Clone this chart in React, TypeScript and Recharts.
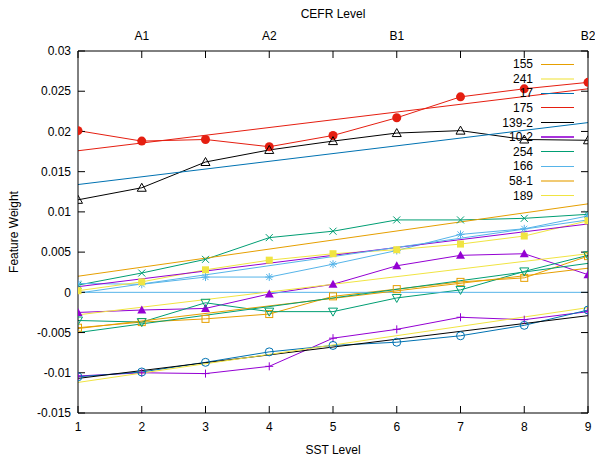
import { ComposedChart, Line, XAxis, YAxis } from "recharts";

// SST levels on the bottom axis, CEFR levels on the top one
const sstLevels = [1, 2, 3, 4, 5, 6, 7, 8, 9];
const cefrTicks = [2, 4, 6, 9];
const cefrLabels = ["A1", "A2", "B1", "B2"];
const yTicks = [-0.015, -0.01, -0.005, 0, 0.005, 0.01, 0.015, 0.02, 0.025, 0.03];

// feature weights per SST level (points)
const plusSeries = [-0.0104, -0.01, -0.0101, -0.0092, -0.0057, -0.0046, -0.0031, -0.0034, -0.0024];
const crossSeries = [0.0009, 0.0024, 0.0041, 0.0068, 0.0076, 0.009, 0.009, 0.0092, 0.0097];
const starSeries = [0.0011, 0.001, 0.0019, 0.0019, 0.0035, 0.0052, 0.0072, 0.0079, 0.0095];
const openSquareSeries = [-0.0044, -0.0037, -0.0033, -0.0027, -0.0005, 0.0004, 0.0013, 0.0018, 0.0045];
const squareSeries = [0.0002, 0.0013, 0.0028, 0.004, 0.0048, 0.0053, 0.006, 0.007, 0.0089];
const openCircleSeries = [-0.0105, -0.0099, -0.0087, -0.0074, -0.0066, -0.0062, -0.0054, -0.0041, -0.0022];
const circleSeries = [0.0201, 0.0188, 0.019, 0.0181, 0.0195, 0.0217, 0.0243, 0.0253, 0.0261];
const openTriangleSeries = [0.0115, 0.013, 0.0162, 0.0177, 0.0188, 0.0198, 0.0201, 0.019, 0.0189];
const triangleSeries = [-0.0025, -0.0022, -0.002, -0.0002, 0.001, 0.0033, 0.0046, 0.0048, 0.0022];
const openTriangleDownSeries = [-0.0035, -0.0037, -0.0013, -0.0024, -0.0024, -0.0007, 0.0003, 0.0026, 0.0046];

// fitted lines: value at SST 1 and at SST 9
const fitLabels = ["155", "241", "17", "175", "139-2", "10-2", "254", "166", "58-1", "189"];
const fitStart = [-0.0045, -0.0028, 0.0134, 0.0176, -0.0107, 0.0007, -0.005, -0.0001, 0.002, -0.0112];
const fitEnd = [0.003, 0.0048, 0.0211, 0.0253, -0.0029, 0.0085, 0.0036, 0.009, 0.011, -0.0019];

// the zero line, at SST 1 and SST 9
const zeroLine = [0, 0];

const PURPLE = "#9400d3";
const GREEN = "#009e73";
const SKY = "#56b4e9";
const ORANGE = "#e69f00";
const YELLOW = "#f0e442";
const BLUE = "#0072b2";
const RED = "#e51e10";
const BLACK = "#000000";

const FONT = '"Liberation Sans", Arial, Helvetica, sans-serif';

const pointSeries = [
  { name: "p1", values: plusSeries, color: PURPLE, shape: "plus" },
  { name: "p2", values: crossSeries, color: GREEN, shape: "cross" },
  { name: "p3", values: starSeries, color: SKY, shape: "star" },
  { name: "p4", values: openSquareSeries, color: ORANGE, shape: "openSquare" },
  { name: "p5", values: squareSeries, color: YELLOW, shape: "square" },
  { name: "p6", values: openCircleSeries, color: BLUE, shape: "openCircle" },
  { name: "p7", values: circleSeries, color: RED, shape: "circle" },
  { name: "p8", values: openTriangleSeries, color: BLACK, shape: "openTriangle" },
  { name: "p9", values: triangleSeries, color: PURPLE, shape: "triangle" },
  { name: "p10", values: openTriangleDownSeries, color: GREEN, shape: "openTriangleDown" },
];

const fitColors = [ORANGE, YELLOW, BLUE, RED, BLACK, PURPLE, GREEN, SKY, ORANGE, YELLOW];
const legendLine = [
  { w: 1, o: 1 },
  { w: 2, o: 0.55 },
  { w: 1, o: 1 },
  { w: 1, o: 1 },
  { w: 1, o: 1 },
  { w: 2, o: 0.8 },
  { w: 1, o: 1 },
  { w: 1, o: 1 },
  { w: 2, o: 0.55 },
  { w: 1, o: 1 },
];

const Marker = ({ cx, cy, shape, color }: { cx: number; cy: number; shape: string; color: string }) => {
  if (cx == null || cy == null) return null;
  const s = { stroke: color, strokeWidth: 1, fill: "none" };
  switch (shape) {
    case "plus":
      return (
        <g {...s}>
          <line x1={cx - 4} y1={cy} x2={cx + 4} y2={cy} />
          <line x1={cx} y1={cy - 4} x2={cx} y2={cy + 4} />
        </g>
      );
    case "cross":
      return (
        <g {...s}>
          <line x1={cx - 3.5} y1={cy - 3.5} x2={cx + 3.5} y2={cy + 3.5} />
          <line x1={cx - 3.5} y1={cy + 3.5} x2={cx + 3.5} y2={cy - 3.5} />
        </g>
      );
    case "star":
      return (
        <g {...s}>
          <line x1={cx - 4} y1={cy} x2={cx + 4} y2={cy} />
          <line x1={cx} y1={cy - 4} x2={cx} y2={cy + 4} />
          <line x1={cx - 3} y1={cy - 3} x2={cx + 3} y2={cy + 3} />
          <line x1={cx - 3} y1={cy + 3} x2={cx + 3} y2={cy - 3} />
        </g>
      );
    case "openSquare":
      return <rect x={cx - 3.5} y={cy - 3.5} width={7} height={7} {...s} />;
    case "square":
      return <rect x={cx - 3.5} y={cy - 3.5} width={7} height={7} fill={color} />;
    case "openCircle":
      return <circle cx={cx} cy={cy} r={4} {...s} />;
    case "circle":
      return <circle cx={cx} cy={cy} r={4.5} fill={color} />;
    case "openTriangle":
      return <polygon points={`${cx},${cy - 4.5} ${cx - 4.5},${cy + 3.5} ${cx + 4.5},${cy + 3.5}`} {...s} />;
    case "triangle":
      return <polygon points={`${cx},${cy - 4.5} ${cx - 4.5},${cy + 3.5} ${cx + 4.5},${cy + 3.5}`} fill={color} />;
    case "openTriangleDown":
      return <polygon points={`${cx},${cy + 4.5} ${cx - 4.5},${cy - 3.5} ${cx + 4.5},${cy - 3.5}`} {...s} />;
    default:
      return null;
  }
};

const fmtY = (v: number) => String(parseFloat(v.toFixed(3)));
const fmtTop = (v: number) => {
  const i = cefrTicks.indexOf(v);
  return i >= 0 ? cefrLabels[i] : "";
};

const tickStyle = { fontSize: 12, fill: "#000", fontFamily: FONT };

const App = () => {
  return (
    <div
      style={{
        position: "absolute",
        left: 0,
        top: 0,
        width: 595,
        height: 457,
        background: "#fff",
        fontFamily: FONT,
      }}
    >
      <ComposedChart width={595} height={457} margin={{ top: 21, right: 0, bottom: 0, left: 0 }}>
        <XAxis
          xAxisId="bottom"
          type="number"
          dataKey="x"
          domain={[1, 9]}
          ticks={sstLevels}
          allowDataOverflow
          height={44}
          stroke="#000"
          tickSize={-7}
          tickMargin={16.5}
          tick={tickStyle}
          label={{ value: "SST Level", position: "insideBottom", offset: 3.5, style: tickStyle }}
        />
        <XAxis
          xAxisId="top"
          orientation="top"
          type="number"
          dataKey="x"
          domain={[1, 9]}
          ticks={sstLevels}
          interval={0}
          allowDataOverflow
          height={30}
          stroke="#000"
          tickSize={-7}
          tickMargin={18.5}
          tickFormatter={fmtTop}
          tick={tickStyle}
          label={{ value: "CEFR Level", position: "top", offset: 3.5, style: tickStyle }}
        />
        <YAxis
          yAxisId="left"
          type="number"
          domain={[-0.015, 0.03]}
          ticks={yTicks}
          interval={0}
          allowDataOverflow
          width={78}
          stroke="#000"
          tickSize={-7}
          tickMargin={14}
          tickFormatter={fmtY}
          tick={tickStyle}
          label={{
            value: "Feature Weight",
            content: () => (
              <text
                x={18}
                y={232}
                transform="rotate(-90 18 232)"
                textAnchor="middle"
                style={tickStyle}
              >
                Feature Weight
              </text>
            ),
          }}
        />
        <YAxis
          yAxisId="right"
          orientation="right"
          type="number"
          domain={[-0.015, 0.03]}
          ticks={yTicks}
          interval={0}
          allowDataOverflow
          width={7}
          stroke="#000"
          tickSize={-7}
          tickFormatter={() => ""}
        />

        {pointSeries.map((s) => (
          <Line
            key={s.name}
            xAxisId="bottom"
            yAxisId="left"
            data={sstLevels.map((x, i) => ({ x, y: s.values[i] }))}
            dataKey="y"
            type="linear"
            stroke={s.color}
            strokeWidth={1}
            isAnimationActive={false}
            activeDot={false}
            legendType="none"
            dot={(p: any) => (
              <Marker key={`${s.name}-${p.index}`} cx={p.cx} cy={p.cy} shape={s.shape} color={s.color} />
            )}
          />
        ))}

        <Line
          xAxisId="top"
          yAxisId="right"
          data={[
            { x: sstLevels[0], y: zeroLine[0] },
            { x: sstLevels[sstLevels.length - 1], y: zeroLine[1] },
          ]}
          dataKey="y"
          type="linear"
          stroke={SKY}
          strokeWidth={1}
          dot={false}
          activeDot={false}
          legendType="none"
          isAnimationActive={false}
        />

        {fitLabels.map((label, i) => (
          <Line
            key={label}
            name={label}
            xAxisId="bottom"
            yAxisId="left"
            data={[
              { x: sstLevels[0], y: fitStart[i] },
              { x: sstLevels[sstLevels.length - 1], y: fitEnd[i] },
            ]}
            dataKey="y"
            type="linear"
            stroke={fitColors[i]}
            strokeWidth={1}
            dot={false}
            activeDot={false}
            isAnimationActive={false}
          />
        ))}
      </ComposedChart>

      <div style={{ position: "absolute", left: 465, top: 56.7, fontSize: 12, color: "#000" }}>
        {fitLabels.map((label, i) => (
          <div key={label} style={{ display: "flex", alignItems: "center", height: 14.65 }}>
            <span style={{ width: 68, textAlign: "right", lineHeight: "14px" }}>{label}</span>
            <span
              style={{
                marginLeft: 8,
                width: 33,
                height: legendLine[i].w,
                background: fitColors[i],
                opacity: legendLine[i].o,
              }}
            />
          </div>
        ))}
      </div>
    </div>
  );
};

export default App;
